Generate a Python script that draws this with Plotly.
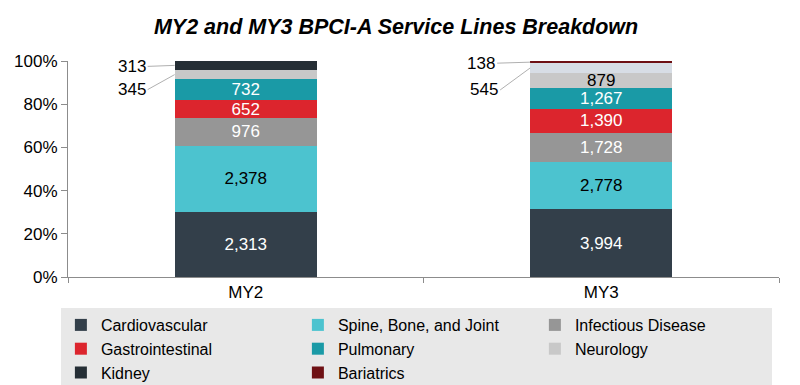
import plotly.graph_objects as go

periods = ["MY2", "MY3"]
service_lines = ["Cardiovascular", "Spine, Bone, and Joint", "Infectious Disease",
                 "Gastrointestinal", "Pulmonary", "Neurology", "Kidney", "Bariatrics"]
cardiovascular = [2313, 3994]
spine = [2378, 2778]
infectious = [976, 1728]
gastro = [652, 1390]
pulmonary = [732, 1267]
neurology = [345, 879]
kidney = [313, 545]
bariatrics = [0, 138]
y_tick_vals = [0, 20, 40, 60, 80, 100]
y_tick_text = ["0%", "20%", "40%", "60%", "80%", "100%"]

series = [cardiovascular, spine, infectious, gastro, pulmonary, neurology, kidney, bariatrics]
colors = [["#333f4a"] * 2, ["#4cc3cf"] * 2, ["#969696"] * 2, ["#dc252d"] * 2,
          ["#1a9aa6"] * 2, ["#c8c8c8"] * 2, ["#252e35", "#d7dde5"], ["#6e1014"] * 2]
label_colors = ["white", "black", "white", "white", "white", "black", "white", "white"]
# which values are labelled outside (leader lines)
outside = {("Neurology", 0), ("Kidney", 0), ("Kidney", 1), ("Bariatrics", 1)}

FONT = "Liberation Sans, Arial"
totals = [sum(s[i] for s in series) for i in range(2)]

fig = go.Figure()
for name, vals, col, lc in zip(service_lines, series, colors, label_colors):
    texts = []
    for i, v in enumerate(vals):
        if v == 0 or (name, i) in outside:
            texts.append("")
        else:
            texts.append(f"{v:,}")
    fig.add_trace(go.Bar(
        x=periods, y=vals, name=name,
        marker=dict(color=col, line=dict(width=0)),
        text=texts, textposition="inside", insidetextanchor="middle",
        constraintext="none",
        textfont=dict(color=lc, size=17, family=FONT),
        hoverinfo="skip",
    ))

# leader-line labels for small segments
annots = []
cum = [[0, 0]]
for s in series:
    cum.append([cum[-1][i] + s[i] for i in range(2)])
def mid_pct(idx, i):
    return (cum[idx][i] + series[idx][i] / 2) / totals[i] * 100

outside_specs = [  # (series index, period index, ax, ay)
    (6, 0, -27, 1),
    (5, 0, -27, 15),
    (7, 1, -33, 1),
    (6, 1, -30, 22),
]
for si, pi, ax, ay in outside_specs:
    annots.append(dict(
        x=pi - 0.2, y=mid_pct(si, pi), xref="x", yref="y",
        text=f"{series[si][pi]:,}", showarrow=True, arrowhead=0,
        arrowwidth=1, arrowcolor="#b0b0b0", ax=ax, ay=ay,
        xanchor="right", font=dict(size=17, color="black", family=FONT),
        standoff=0,
    ))

fig.update_layout(
    width=792, height=377,
    barmode="stack", barnorm="percent", bargap=0.6,
    plot_bgcolor="white", paper_bgcolor="white",
    margin=dict(l=60, r=21, t=53, b=108, autoexpand=False),
    font=dict(family=FONT, size=17, color="black"),
    title=dict(text="<b><i>MY2 and MY3 BPCI-A Service Lines Breakdown</i></b>",
               x=0.49, xref="container", y=0.95, yanchor="middle",
               font=dict(size=21.5, family=FONT, color="black")),
    xaxis=dict(showline=True, linecolor="#8c8c8c", linewidth=1, ticks="outside",
               tickson="boundaries", ticklen=5, tickcolor="#8c8c8c",
               tickfont=dict(size=17), showgrid=False),
    yaxis=dict(range=[0, 100], tickmode="array", tickvals=y_tick_vals, ticktext=y_tick_text,
               showline=True, linecolor="#8c8c8c", linewidth=1, ticks="outside",
               ticklen=6, tickcolor="#8c8c8c", showgrid=False, tickfont=dict(size=17),
               zeroline=False),
    legend=dict(orientation="h", x=-0.01, xanchor="left", y=-0.1435, yanchor="top",
                bgcolor="#e8e8e8", entrywidth=192, traceorder="normal",
                font=dict(size=16), itemwidth=30, tracegroupgap=0),
    annotations=annots,
    showlegend=True,
)

fig.write_html("out.html")
